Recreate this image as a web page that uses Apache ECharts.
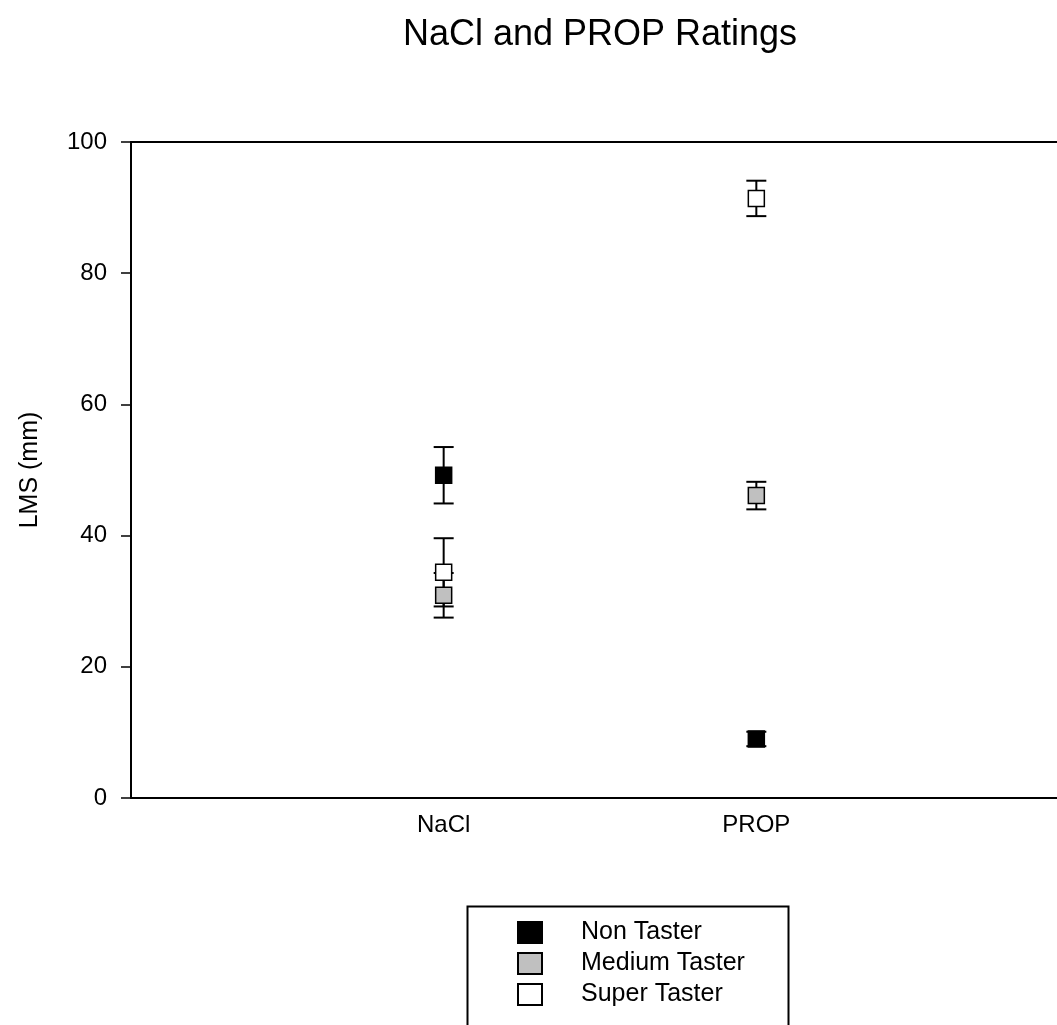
<!DOCTYPE html>
<html>
<head>
<meta charset="utf-8">
<script src="https://cdn.jsdelivr.net/npm/echarts@6/dist/echarts.min.js"></script>
<style>
html,body{margin:0;padding:0;background:#fff;}
#chart{width:1057px;height:1025px;}
</style>
</head>
<body>
<div id="chart"></div>
<script>
var categories = ['NaCl', 'PROP'];
var seriesNames = ['Non Taster', 'Medium Taster', 'Super Taster'];
var nonMean = [49.2, 9.0];
var nonErr = [4.3, 1.1];
var medMean = [30.9, 46.1];
var medErr = [3.4, 2.1];
var supMean = [34.4, 91.4];
var supErr = [5.2, 2.7];
var yTicks = [0, 20, 40, 60, 80, 100];
var fills = ['#000000', '#c0c0c0', '#ffffff'];

var means = [nonMean, medMean, supMean];
var errs = [nonErr, medErr, supErr];

var chart = echarts.init(document.getElementById('chart'));

function errData(m, e) {
  return categories.map(function (c, i) { return [i + 1, m[i] - e[i], m[i] + e[i]]; });
}
function ptData(m) {
  return categories.map(function (c, i) { return [i + 1, m[i]]; });
}

var series = [];
for (var k = 0; k < 3; k++) {
  series.push({
    type: 'custom',
    name: 'err' + k,
    z: 2,
    silent: true,
    data: errData(means[k], errs[k]),
    renderItem: function (params, api) {
      var x = api.coord([api.value(0), api.value(1)])[0];
      var yLo = api.coord([api.value(0), api.value(1)])[1];
      var yHi = api.coord([api.value(0), api.value(2)])[1];
      var hw = 10;
      var st = { stroke: '#000', lineWidth: 2, fill: null };
      return {
        type: 'group',
        children: [
          { type: 'line', shape: { x1: x, y1: yLo, x2: x, y2: yHi }, style: st },
          { type: 'line', shape: { x1: x - hw, y1: yLo, x2: x + hw, y2: yLo }, style: st },
          { type: 'line', shape: { x1: x - hw, y1: yHi, x2: x + hw, y2: yHi }, style: st }
        ]
      };
    }
  });
}
for (var k2 = 0; k2 < 3; k2++) {
  series.push({
    type: 'scatter',
    name: seriesNames[k2],
    z: 5,
    symbol: 'rect',
    symbolSize: 16,
    itemStyle: { color: fills[k2], borderColor: '#000', borderWidth: 1.5, opacity: 1 },
    data: ptData(means[k2])
  });
}

var option = {
  animation: false,
  backgroundColor: '#fff',
  title: {
    text: 'NaCl and PROP Ratings',
    left: 595,
    top: 12,
    textAlign: 'center',
    textStyle: { fontFamily: 'Liberation Sans, Arial, sans-serif', fontSize: 36, fontWeight: 'normal', color: '#000' }
  },
  graphic: [{
    type: 'rect',
    left: 465,
    top: 904,
    shape: { width: 321, height: 200 },
    style: { fill: 'none', stroke: '#000', lineWidth: 2 },
    silent: true
  }],
  legend: {
    data: seriesNames,
    orient: 'vertical',
    left: 517,
    top: 920,
    padding: 0,
    itemWidth: 24,
    itemHeight: 21,
    itemGap: 6,
    icon: 'rect',
    textStyle: { fontFamily: 'Liberation Sans, Arial, sans-serif', fontSize: 25, color: '#000', padding: [0, 0, 0, 34], lineHeight: 21 }
  },
  grid: { left: 131, top: 142, width: 938, height: 656, containLabel: false, outerBoundsMode: 'none' },
  xAxis: [{
    type: 'value',
    min: 0, max: 3, interval: 1,
    position: 'bottom',
    axisLine: { show: true, onZero: false, lineStyle: { color: '#000', width: 2 } },
    axisTick: { show: false },
    splitLine: { show: false },
    axisLabel: {
      margin: 15,
      fontFamily: 'Liberation Sans, Arial, sans-serif', fontSize: 24, color: '#000',
      formatter: function (v) { return categories[v - 1] || ''; }
    }
  }, {
    type: 'value',
    min: 0, max: 3, interval: 1,
    position: 'top',
    axisLine: { show: true, onZero: false, lineStyle: { color: '#000', width: 2 } },
    axisTick: { show: false },
    splitLine: { show: false },
    axisLabel: { show: false }
  }],
  yAxis: {
    type: 'value',
    min: 0, max: 100, interval: 20,
    name: 'LMS (mm)',
    nameLocation: 'middle',
    nameRotate: 90,
    nameGap: 88,
    nameTextStyle: { fontFamily: 'Liberation Sans, Arial, sans-serif', fontSize: 25, color: '#000' },
    axisLine: { show: true, lineStyle: { color: '#000', width: 2 } },
    axisTick: { show: true, length: 10, lineStyle: { color: '#000', width: 1.5 } },
    splitLine: { show: false },
    axisLabel: {
      margin: 24,
      fontFamily: 'Liberation Sans, Arial, sans-serif', fontSize: 24, color: '#000',
      customValues: yTicks
    }
  },
  series: series
};
chart.setOption(option);
</script>
</body>
</html>
